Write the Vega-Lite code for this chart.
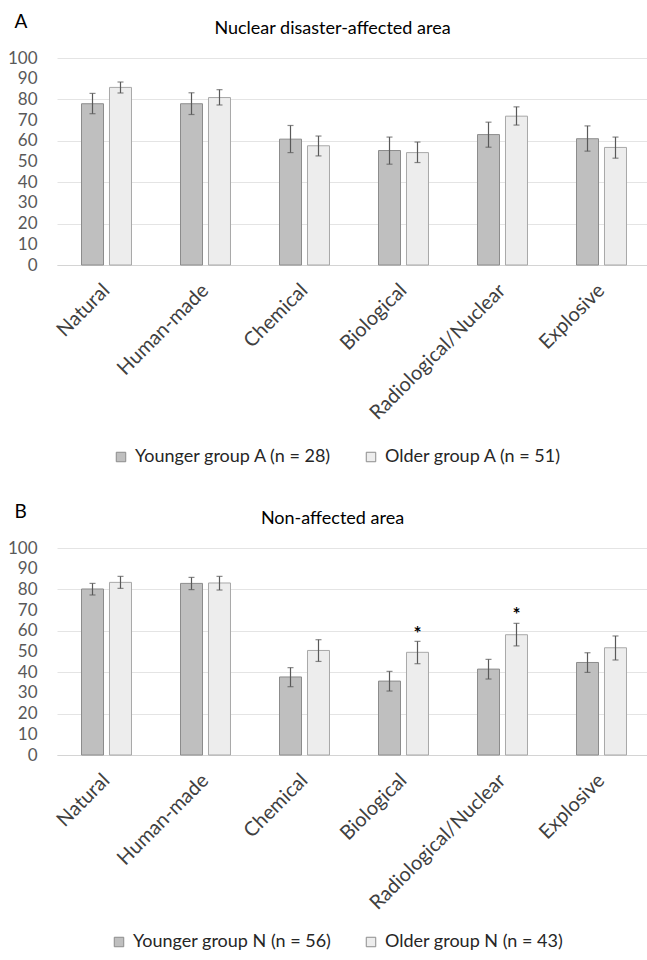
{
  "$schema": "https://vega.github.io/schema/vega-lite/v6.json",
  "autosize": {"type": "none"},
  "padding": {"left": 57, "top": 58, "right": 590, "bottom": 902},
  "background": "white",
  "bounds": "flush",
  "spacing": 283,
  "config": {
    "font": "Lato",
    "view": {"stroke": null},
    "axisY": {"ticks": false, "tickSize": 0, "domain": false, "gridColor": "#e4e4e4", "gridWidth": 1, "labelFontSize": 17, "labelColor": "#595959", "labelPadding": 20, "labelOverlap": false, "titleAngle": 0, "titleAlign": "center", "titleBaseline": "alphabetic", "titleX": 275, "titleY": -25, "titleFontSize": 18, "titleFontWeight": "normal", "titleColor": "#000000"},
    "axisX": {"ticks": false, "tickSize": 0, "domainColor": "#d4d4d4", "grid": false, "labelFontSize": 20, "labelColor": "#404040", "labelAngle": -45, "labelAlign": "right", "labelBaseline": "middle", "labelPadding": 22, "labelLimit": 300, "labelOverlap": false, "titleAngle": 0, "titleAlign": "left", "titleBaseline": "alphabetic", "titleX": -43, "titleY": -238, "titleFontSize": 19, "titleFontWeight": "normal", "titleColor": "#000000"},
    "legend": {"orient": "none", "direction": "horizontal", "title": null, "symbolType": "square", "symbolSize": 90, "symbolStrokeColor": "#8c8c8c", "symbolStrokeWidth": 1, "labelFontSize": 18, "labelColor": "#262626", "labelOffset": 5, "columnPadding": 30, "labelLimit": 400}
  },
  "datasets": {
    "A": [
      {"category": "Natural", "age": "Younger", "group": "Younger group A (n = 28)", "value": 77.9, "lo": 73.1, "hi": 82.9},
      {"category": "Natural", "age": "Older", "group": "Older group A (n = 51)", "value": 85.8, "lo": 83.1, "hi": 88.4},
      {"category": "Human-made", "age": "Younger", "group": "Younger group A (n = 28)", "value": 77.9, "lo": 72.7, "hi": 83.2},
      {"category": "Human-made", "age": "Older", "group": "Older group A (n = 51)", "value": 80.9, "lo": 77.3, "hi": 84.7},
      {"category": "Chemical", "age": "Younger", "group": "Younger group A (n = 28)", "value": 60.8, "lo": 54.3, "hi": 67.4},
      {"category": "Chemical", "age": "Older", "group": "Older group A (n = 51)", "value": 57.6, "lo": 52.7, "hi": 62.3},
      {"category": "Biological", "age": "Younger", "group": "Younger group A (n = 28)", "value": 55.3, "lo": 48.7, "hi": 61.8},
      {"category": "Biological", "age": "Older", "group": "Older group A (n = 51)", "value": 54.3, "lo": 49.5, "hi": 59.4},
      {"category": "Radiological/Nuclear", "age": "Younger", "group": "Younger group A (n = 28)", "value": 63.0, "lo": 56.9, "hi": 69.0},
      {"category": "Radiological/Nuclear", "age": "Older", "group": "Older group A (n = 51)", "value": 71.9, "lo": 67.6, "hi": 76.4},
      {"category": "Explosive", "age": "Younger", "group": "Younger group A (n = 28)", "value": 61.0, "lo": 55.0, "hi": 67.2},
      {"category": "Explosive", "age": "Older", "group": "Older group A (n = 51)", "value": 56.8, "lo": 51.6, "hi": 61.8}
    ],
    "B": [
      {"category": "Natural", "age": "Younger", "group": "Younger group N (n = 56)", "value": 80.2, "lo": 77.3, "hi": 82.9},
      {"category": "Natural", "age": "Older", "group": "Older group N (n = 43)", "value": 83.4, "lo": 80.5, "hi": 86.3},
      {"category": "Human-made", "age": "Younger", "group": "Younger group N (n = 56)", "value": 82.9, "lo": 79.9, "hi": 85.8},
      {"category": "Human-made", "age": "Older", "group": "Older group N (n = 43)", "value": 83.1, "lo": 79.7, "hi": 86.3},
      {"category": "Chemical", "age": "Younger", "group": "Younger group N (n = 56)", "value": 37.7, "lo": 33.0, "hi": 42.2},
      {"category": "Chemical", "age": "Older", "group": "Older group N (n = 43)", "value": 50.5, "lo": 45.2, "hi": 55.7},
      {"category": "Biological", "age": "Younger", "group": "Younger group N (n = 56)", "value": 35.7, "lo": 30.9, "hi": 40.4},
      {"category": "Biological", "age": "Older", "group": "Older group N (n = 43)", "value": 49.6, "lo": 44.1, "hi": 54.9},
      {"category": "Radiological/Nuclear", "age": "Younger", "group": "Younger group N (n = 56)", "value": 41.5, "lo": 36.7, "hi": 46.2},
      {"category": "Radiological/Nuclear", "age": "Older", "group": "Older group N (n = 43)", "value": 58.1, "lo": 52.7, "hi": 63.6},
      {"category": "Explosive", "age": "Younger", "group": "Younger group N (n = 56)", "value": 44.7, "lo": 39.9, "hi": 49.4},
      {"category": "Explosive", "age": "Older", "group": "Older group N (n = 43)", "value": 51.8, "lo": 45.9, "hi": 57.5}
    ],
    "starsB": [
      {"category": "Biological", "age": "Older", "mark": "*", "pos": 60.9},
      {"category": "Radiological/Nuclear", "age": "Older", "mark": "*", "pos": 69.9}
    ]
  },
  "vconcat": [
    {
      "width": 594,
      "height": 207,
      "data": {"name": "A"},
      "encoding": {
        "x": {"field": "category", "type": "nominal", "sort": ["Natural", "Human-made", "Chemical", "Biological", "Radiological/Nuclear", "Explosive"], "scale": {"paddingInner": 0.495, "paddingOuter": 0.2475}, "axis": {"title": "A"}},
        "xOffset": {"field": "age", "type": "nominal", "sort": ["Younger", "Older"], "scale": {"paddingInner": 0.214, "paddingOuter": 0}}
      },
      "layer": [
        {
          "mark": {"type": "bar", "strokeWidth": 1},
          "encoding": {
            "y": {"field": "value", "type": "quantitative", "scale": {"domain": [0, 100], "nice": false}, "axis": {"values": [0, 20, 40, 60, 80, 100], "orient": "left", "title": "Nuclear disaster-affected area"}},
            "fill": {"field": "group", "type": "nominal", "scale": {"domain": ["Younger group A (n = 28)", "Older group A (n = 51)"], "range": ["#bfbfbf", "#ededed"]}, "legend": {"legendX": 55, "legendY": 390}},
            "stroke": {"field": "age", "type": "nominal", "scale": {"domain": ["Younger", "Older"], "range": ["#8c8c8c", "#a8a8a8"]}, "legend": null}
          }
        },
        {
          "mark": {"type": "rule", "color": "#595959", "strokeWidth": 1.2},
          "encoding": {"y": {"field": "lo", "type": "quantitative", "axis": {"values": [10, 30, 50, 70, 90], "orient": "left", "title": null}}, "y2": {"field": "hi"}}
        },
        {
          "mark": {"type": "tick", "color": "#595959", "size": 6, "thickness": 1.2},
          "encoding": {"y": {"field": "lo", "type": "quantitative", "axis": null}}
        },
        {
          "mark": {"type": "tick", "color": "#595959", "size": 6, "thickness": 1.2},
          "encoding": {"y": {"field": "hi", "type": "quantitative", "axis": null}}
        }
      ],
      "resolve": {"scale": {"y": "shared"}, "axis": {"y": "independent"}}
    },
    {
      "width": 594,
      "height": 207,
      "encoding": {
        "x": {"field": "category", "type": "nominal", "sort": ["Natural", "Human-made", "Chemical", "Biological", "Radiological/Nuclear", "Explosive"], "scale": {"paddingInner": 0.495, "paddingOuter": 0.2475}, "axis": {"title": "B"}},
        "xOffset": {"field": "age", "type": "nominal", "sort": ["Younger", "Older"], "scale": {"paddingInner": 0.214, "paddingOuter": 0}}
      },
      "layer": [
        {
          "data": {"name": "B"},
          "mark": {"type": "bar", "strokeWidth": 1},
          "encoding": {
            "y": {"field": "value", "type": "quantitative", "scale": {"domain": [0, 100], "nice": false}, "axis": {"values": [0, 20, 40, 60, 80, 100], "orient": "left", "title": "Non-affected area"}},
            "fill": {"field": "group", "type": "nominal", "scale": {"domain": ["Younger group N (n = 56)", "Older group N (n = 43)"], "range": ["#bfbfbf", "#ededed"]}, "legend": {"legendX": 53, "legendY": 385}},
            "stroke": {"field": "age", "type": "nominal", "scale": {"domain": ["Younger", "Older"], "range": ["#8c8c8c", "#a8a8a8"]}, "legend": null}
          }
        },
        {
          "data": {"name": "B"},
          "mark": {"type": "rule", "color": "#595959", "strokeWidth": 1.2},
          "encoding": {"y": {"field": "lo", "type": "quantitative", "axis": {"values": [10, 30, 50, 70, 90], "orient": "left", "title": null}}, "y2": {"field": "hi"}}
        },
        {
          "data": {"name": "B"},
          "mark": {"type": "tick", "color": "#595959", "size": 6, "thickness": 1.2},
          "encoding": {"y": {"field": "lo", "type": "quantitative", "axis": null}}
        },
        {
          "data": {"name": "B"},
          "mark": {"type": "tick", "color": "#595959", "size": 6, "thickness": 1.2},
          "encoding": {"y": {"field": "hi", "type": "quantitative", "axis": null}}
        },
        {
          "data": {"name": "starsB"},
          "mark": {"type": "text", "fontSize": 19, "fontWeight": "bold", "color": "#000000", "baseline": "middle", "dy": 5},
          "encoding": {"y": {"field": "pos", "type": "quantitative", "axis": null}, "text": {"field": "mark"}}
        }
      ],
      "resolve": {"scale": {"y": "shared"}, "axis": {"y": "independent"}}
    }
  ],
  "resolve": {"scale": {"fill": "independent", "stroke": "independent", "x": "independent", "y": "independent", "xOffset": "independent"}, "legend": {"fill": "independent"}}
}
